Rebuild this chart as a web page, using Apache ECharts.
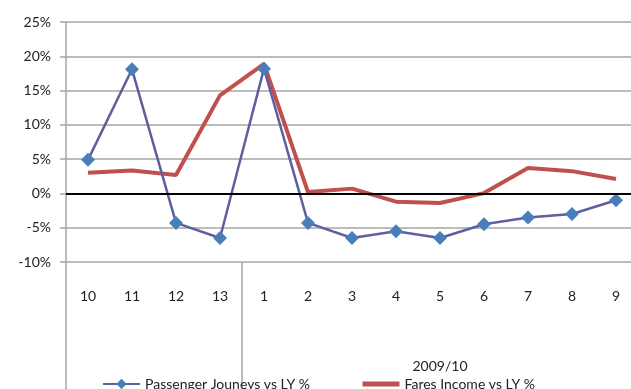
<!DOCTYPE html>
<html>
<head>
<meta charset="utf-8">
<script src="https://cdn.jsdelivr.net/npm/echarts@6/dist/echarts.min.js"></script>
<style>
html,body{margin:0;padding:0;background:#fff;overflow:hidden;}
#container{width:638px;height:389px;}
</style>
</head>
<body>
<div id="container"></div>
<script>
var periods = ['10','11','12','13','1','2','3','4','5','6','7','8','9'];
var yearLabels = ['','','','','','','','','2009/10','','','',''];
var journeys = [4.9, 18.1, -4.3, -6.5, 18.2, -4.3, -6.5, -5.5, -6.5, -4.5, -3.5, -3.0, -1.0];
var fares = [3.0, 3.35, 2.7, 14.3, 18.9, 0.2, 0.7, -1.2, -1.4, 0.05, 3.7, 3.25, 2.1];
var yTicks = {min: -10, max: 25, step: 5};

var font = 'Lato, "Open Sans", sans-serif';

var option = {
	animation: false,
	grid: {left: 66, right: 0, top: 22, bottom: 127},
	legend: {
		top: 372,
		left: 97,
		itemWidth: 37,
		itemHeight: 13,
		itemGap: 50,
		textStyle: {fontFamily: font, fontSize: 14, color: '#222'},
		data: [
			{name: 'Passenger Jouneys vs LY %'},
			{name: 'Fares Income vs LY %', itemStyle: {opacity: 0}, lineStyle: {width: 5}}
		]
	},
	xAxis: [
		{
			type: 'category',
			data: periods,
			axisLine: {show: true, lineStyle: {color: '#a6a6a6', width: 1.5}},
			axisTick: {show: false},
			axisLabel: {margin: 27, fontFamily: font, fontSize: 14, color: '#222'}
		},
		{
			type: 'category',
			data: yearLabels,
			position: 'bottom',
			axisLine: {show: false},
			axisTick: {
				show: true,
				length: 127,
				interval: function(i){ return i === 0 || i === 4; },
				lineStyle: {color: '#a6a6a6', width: 1.5}
			},
			axisLabel: {margin: 97, interval: 0, fontFamily: font, fontSize: 14, color: '#222'}
		}
	],
	yAxis: {
		type: 'value',
		min: yTicks.min,
		max: yTicks.max,
		interval: yTicks.step,
		axisLine: {show: true, lineStyle: {color: '#a6a6a6', width: 1.5}},
		axisTick: {show: true, length: 6, lineStyle: {color: '#a6a6a6', width: 1.5}},
		axisLabel: {margin: 15, formatter: '{value}%', fontFamily: font, fontSize: 14, color: '#222'},
		splitLine: {lineStyle: {color: '#a6a6a6', width: 1.5}}
	},
	series: [
		{
			name: 'Passenger Jouneys vs LY %',
			type: 'line',
			data: journeys,
			symbol: 'diamond',
			symbolSize: 14,
			lineStyle: {color: '#5f5f9f', width: 2.5},
			itemStyle: {color: '#4a7ebb'},
			z: 3,
			markLine: {
				silent: true,
				symbol: 'none',
				label: {show: false},
				lineStyle: {color: '#000', width: 2, type: 'solid'},
				data: [{yAxis: 0}]
			}
		},
		{
			name: 'Fares Income vs LY %',
			type: 'line',
			data: fares,
			symbol: 'none',
			lineStyle: {color: '#c0504d', width: 4},
			itemStyle: {color: '#c0504d'},
			z: 2
		}
	]
};

var mychart = echarts.init(document.getElementById('container'));
mychart.setOption(option);
</script>
</body>
</html>
